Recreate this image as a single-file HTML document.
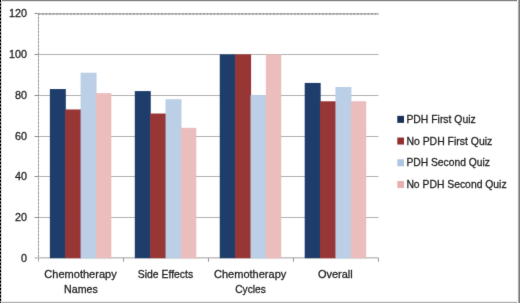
<!DOCTYPE html>
<html><head><meta charset="utf-8"><style>
html,body{margin:0;padding:0;background:#fff;width:520px;height:303px;overflow:hidden}
</style></head><body>
<svg width="520" height="303" viewBox="0 0 520 303" style="display:block">
<defs><filter id="b" x="0" y="0" width="520" height="303" filterUnits="userSpaceOnUse" primitiveUnits="userSpaceOnUse" color-interpolation-filters="sRGB"><feConvolveMatrix order="3" kernelMatrix="1 10 1 10 100 10 1 10 1" edgeMode="duplicate" preserveAlpha="false"/></filter></defs>
<rect x="0" y="0" width="520" height="303" fill="#fff"/>
<g filter="url(#b)">
<line x1="38.5" y1="217.50" x2="378.5" y2="217.50" stroke="#b0b0b0" stroke-width="1"/>
<line x1="38.5" y1="176.50" x2="378.5" y2="176.50" stroke="#b0b0b0" stroke-width="1"/>
<line x1="38.5" y1="136.50" x2="378.5" y2="136.50" stroke="#b0b0b0" stroke-width="1"/>
<line x1="38.5" y1="95.50" x2="378.5" y2="95.50" stroke="#b0b0b0" stroke-width="1"/>
<line x1="38.5" y1="54.50" x2="378.5" y2="54.50" stroke="#b0b0b0" stroke-width="1"/>
<line x1="38.5" y1="13.90" x2="378.5" y2="13.90" stroke="#bcbcbc" stroke-width="1.6"/>
<line x1="38.5" y1="13.90" x2="378.5" y2="13.90" stroke="#9c9c9c" stroke-width="1.6" stroke-dasharray="1.8 1.7"/>
<line x1="34.5" y1="257.9" x2="378.5" y2="257.9" stroke="#a0a0a0" stroke-width="1"/>
<rect x="49.85" y="89.04" width="15.97" height="169.16" fill="#1f3d6b"/>
<rect x="65.22" y="109.46" width="15.97" height="148.74" fill="#983535"/>
<rect x="80.59" y="72.71" width="15.97" height="185.49" fill="#bbcfe7"/>
<rect x="95.96" y="93.12" width="15.37" height="165.07" fill="#ebbdbd"/>
<rect x="134.80" y="91.08" width="15.97" height="167.12" fill="#1f3d6b"/>
<rect x="150.17" y="113.54" width="15.97" height="144.66" fill="#983535"/>
<rect x="165.54" y="99.25" width="15.97" height="158.95" fill="#bbcfe7"/>
<rect x="180.91" y="127.83" width="15.37" height="130.37" fill="#ebbdbd"/>
<rect x="219.75" y="54.33" width="15.97" height="203.87" fill="#1f3d6b"/>
<rect x="235.12" y="54.33" width="15.97" height="203.87" fill="#983535"/>
<rect x="250.49" y="95.17" width="15.97" height="163.03" fill="#bbcfe7"/>
<rect x="265.86" y="54.33" width="15.37" height="203.87" fill="#ebbdbd"/>
<rect x="304.70" y="82.92" width="15.97" height="175.28" fill="#1f3d6b"/>
<rect x="320.07" y="101.29" width="15.97" height="156.91" fill="#983535"/>
<rect x="335.44" y="87.00" width="15.97" height="171.20" fill="#bbcfe7"/>
<rect x="350.81" y="101.29" width="15.37" height="156.91" fill="#ebbdbd"/>
<line x1="38.5" y1="13.5" x2="38.5" y2="261.9" stroke="#c4c4c4" stroke-width="1"/>
<line x1="38.5" y1="13.5" x2="38.5" y2="261.9" stroke="#959595" stroke-width="1" stroke-dasharray="1.8 1.7"/>
<line x1="34.5" y1="217.50" x2="38.5" y2="217.50" stroke="#8c8c8c" stroke-width="1"/>
<line x1="34.5" y1="176.50" x2="38.5" y2="176.50" stroke="#8c8c8c" stroke-width="1"/>
<line x1="34.5" y1="136.50" x2="38.5" y2="136.50" stroke="#8c8c8c" stroke-width="1"/>
<line x1="34.5" y1="95.50" x2="38.5" y2="95.50" stroke="#8c8c8c" stroke-width="1"/>
<line x1="34.5" y1="54.50" x2="38.5" y2="54.50" stroke="#8c8c8c" stroke-width="1"/>
<line x1="34.5" y1="13.50" x2="38.5" y2="13.50" stroke="#8c8c8c" stroke-width="1"/>
<line x1="123.5" y1="257.9" x2="123.5" y2="261.9" stroke="#9a9a9a" stroke-width="1"/>
<line x1="208.5" y1="257.9" x2="208.5" y2="261.9" stroke="#9a9a9a" stroke-width="1"/>
<line x1="293.5" y1="257.9" x2="293.5" y2="261.9" stroke="#9a9a9a" stroke-width="1"/>
<line x1="378.5" y1="257.9" x2="378.5" y2="261.9" stroke="#9a9a9a" stroke-width="1"/>
<g transform="translate(27.1,262.45) scale(1.04,0.98)"><text x="0.00" y="0.00" text-anchor="end" font-family='"Liberation Sans", sans-serif' font-size="10.4" fill="#1e1e1e" stroke="#1e1e1e" stroke-width="0.28">0</text></g>
<g transform="translate(27.1,221.45) scale(1.04,0.98)"><text x="0.00" y="0.00" text-anchor="end" font-family='"Liberation Sans", sans-serif' font-size="10.4" fill="#1e1e1e" stroke="#1e1e1e" stroke-width="0.28">20</text></g>
<g transform="translate(27.1,180.45) scale(1.04,0.98)"><text x="0.00" y="0.00" text-anchor="end" font-family='"Liberation Sans", sans-serif' font-size="10.4" fill="#1e1e1e" stroke="#1e1e1e" stroke-width="0.28">40</text></g>
<g transform="translate(27.1,140.45) scale(1.04,0.98)"><text x="0.00" y="0.00" text-anchor="end" font-family='"Liberation Sans", sans-serif' font-size="10.4" fill="#1e1e1e" stroke="#1e1e1e" stroke-width="0.28">60</text></g>
<g transform="translate(27.1,99.45) scale(1.04,0.98)"><text x="0.00" y="0.00" text-anchor="end" font-family='"Liberation Sans", sans-serif' font-size="10.4" fill="#1e1e1e" stroke="#1e1e1e" stroke-width="0.28">80</text></g>
<g transform="translate(27.1,58.45) scale(1.04,0.98)"><text x="0.00" y="0.00" text-anchor="end" font-family='"Liberation Sans", sans-serif' font-size="10.4" fill="#1e1e1e" stroke="#1e1e1e" stroke-width="0.28">100</text></g>
<g transform="translate(27.1,17.45) scale(1.04,0.98)"><text x="0.00" y="0.00" text-anchor="end" font-family='"Liberation Sans", sans-serif' font-size="10.4" fill="#1e1e1e" stroke="#1e1e1e" stroke-width="0.28">120</text></g>
<text x="80.50" y="277.60" text-anchor="middle" font-family='"Liberation Sans", sans-serif' font-size="10.8" fill="#1e1e1e" stroke="#1e1e1e" stroke-width="0.28" textLength="72.5" lengthAdjust="spacingAndGlyphs">Chemotherapy</text>
<text x="80.90" y="292.60" text-anchor="middle" font-family='"Liberation Sans", sans-serif' font-size="10.8" fill="#1e1e1e" stroke="#1e1e1e" stroke-width="0.28" textLength="33.6" lengthAdjust="spacingAndGlyphs">Names</text>
<text x="165.45" y="277.60" text-anchor="middle" font-family='"Liberation Sans", sans-serif' font-size="10.8" fill="#1e1e1e" stroke="#1e1e1e" stroke-width="0.28" textLength="55.3" lengthAdjust="spacingAndGlyphs">Side Effects</text>
<text x="250.15" y="277.60" text-anchor="middle" font-family='"Liberation Sans", sans-serif' font-size="10.8" fill="#1e1e1e" stroke="#1e1e1e" stroke-width="0.28" textLength="72.3" lengthAdjust="spacingAndGlyphs">Chemotherapy</text>
<text x="250.50" y="292.60" text-anchor="middle" font-family='"Liberation Sans", sans-serif' font-size="10.8" fill="#1e1e1e" stroke="#1e1e1e" stroke-width="0.28" textLength="30.6" lengthAdjust="spacingAndGlyphs">Cycles</text>
<text x="335.30" y="277.60" text-anchor="middle" font-family='"Liberation Sans", sans-serif' font-size="10.8" fill="#1e1e1e" stroke="#1e1e1e" stroke-width="0.28" textLength="34.8" lengthAdjust="spacingAndGlyphs">Overall</text>
<rect x="397.3" y="115.85" width="6.7" height="7" fill="#182f58"/>
<text x="406.40" y="123.05" text-anchor="start" font-family='"Liberation Sans", sans-serif' font-size="10.8" fill="#1e1e1e" stroke="#1e1e1e" stroke-width="0.28" textLength="69.3" lengthAdjust="spacingAndGlyphs">PDH First Quiz</text>
<rect x="397.3" y="137.55" width="6.7" height="7" fill="#902f2f"/>
<text x="406.40" y="144.75" text-anchor="start" font-family='"Liberation Sans", sans-serif' font-size="10.8" fill="#1e1e1e" stroke="#1e1e1e" stroke-width="0.28" textLength="85.9" lengthAdjust="spacingAndGlyphs">No PDH First Quiz</text>
<rect x="397.3" y="159.25" width="6.7" height="7" fill="#aec6e2"/>
<text x="406.40" y="166.45" text-anchor="start" font-family='"Liberation Sans", sans-serif' font-size="10.8" fill="#1e1e1e" stroke="#1e1e1e" stroke-width="0.28" textLength="83.6" lengthAdjust="spacingAndGlyphs">PDH Second Quiz</text>
<rect x="397.3" y="180.95" width="6.7" height="7" fill="#e6afb0"/>
<text x="406.40" y="188.15" text-anchor="start" font-family='"Liberation Sans", sans-serif' font-size="10.8" fill="#1e1e1e" stroke="#1e1e1e" stroke-width="0.28" textLength="100.2" lengthAdjust="spacingAndGlyphs">No PDH Second Quiz</text>
</g>
<line x1="0" y1="0.5" x2="520" y2="0.5" stroke="#868686"/>
<line x1="0" y1="1.5" x2="520" y2="1.5" stroke="#e2e2e2"/>
<line x1="0" y1="301.5" x2="520" y2="301.5" stroke="#ececec"/>
<line x1="0" y1="302.5" x2="520" y2="302.5" stroke="#b4b4b4"/>
<line x1="517.5" y1="0" x2="517.5" y2="303" stroke="#f0f0f0"/>
<line x1="518.5" y1="0" x2="518.5" y2="303" stroke="#b0b0b0"/>
<line x1="519.5" y1="0" x2="519.5" y2="303" stroke="#7c7c7c"/>
<line x1="1.5" y1="0" x2="1.5" y2="303" stroke="#d4d4d4"/>
<line x1="0.5" y1="0" x2="0.5" y2="303" stroke="#8c8c8c"/>
<line x1="0.5" y1="0" x2="0.5" y2="303" stroke="#000" stroke-dasharray="2 1.6"/>
</svg>
</body></html>
